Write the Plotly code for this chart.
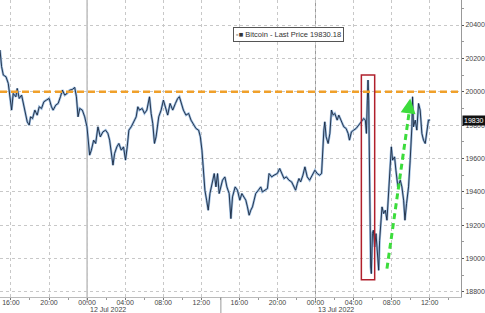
import pandas as pd
import plotly.graph_objects as go

# hours since 2022-07-11 00:00 and Bitcoin last price
hours = [14.85, 15.02, 15.20, 15.48, 15.72, 15.90, 16.07, 16.24, 16.52, 16.66, 16.87, 17.12, 17.29, 17.57,
         17.71, 17.92, 18.06, 18.27, 18.51, 18.76, 18.97, 19.21, 19.46, 19.73, 20.01, 20.26, 20.43, 20.71,
         20.96, 21.20, 21.41, 21.65, 21.90, 22.18, 22.46, 22.70, 22.88, 23.05, 23.23, 23.50, 23.75, 23.99,
         24.10, 24.27, 24.45, 24.69, 24.90, 25.14, 25.39, 25.67, 25.95, 26.19, 26.37, 26.54, 26.72, 26.89,
         27.13, 27.34, 27.59, 27.83, 28.04, 28.22, 28.39, 28.64, 28.81, 29.16, 29.33, 29.51, 29.79, 30.03,
         30.28, 30.56, 30.73, 30.90, 31.08, 31.25, 31.53, 31.78, 32.02, 32.23, 32.47, 32.72, 33.00, 33.28,
         33.52, 33.70, 33.87, 34.12, 34.39, 34.67, 34.92, 35.16, 35.44, 35.72, 35.90, 36.07, 36.21, 36.38,
         36.56, 36.73, 36.91, 37.12, 37.36, 37.54, 37.71, 37.88, 38.06, 38.23, 38.48, 38.69, 38.93, 39.11,
         39.28, 39.56, 39.80, 40.05, 40.26, 40.50, 40.68, 40.85, 41.03, 41.20, 41.38, 41.55, 41.72, 42.00,
         42.25, 42.42, 42.70, 42.95, 43.12, 43.40, 43.64, 43.99, 44.24, 44.45, 44.69, 44.94, 45.21, 45.49,
         45.74, 45.91, 46.09, 46.26, 46.44, 46.68, 46.89, 47.13, 47.38, 47.66, 47.94, 48.18, 48.43, 48.64,
         48.77, 48.88, 48.98, 49.12, 49.33, 49.51, 49.68, 49.86, 50.03, 50.28, 50.45, 50.73, 50.97, 51.22,
         51.43, 51.57, 51.78, 52.02, 52.27, 52.54, 52.82, 53.07, 53.24, 53.35, 53.45, 53.52, 53.59, 53.66,
         53.73, 53.80, 53.87, 53.98, 54.08, 54.22, 54.36, 54.50, 54.64, 54.74, 54.88, 54.99, 55.16, 55.34,
         55.51, 55.69, 55.86, 55.97, 56.10, 56.31, 56.45, 56.66, 56.91, 57.08, 57.26, 57.40, 57.57, 57.78,
         57.95, 58.13, 58.20, 58.30, 58.48, 58.65, 58.83, 59.00, 59.18, 59.35, 59.53, 59.70, 59.87, 60.05]
prices = [20250, 20150, 20100, 20090, 20050, 19970, 19890, 19990, 19970, 20020, 19960, 19980, 19930, 19870,
          19820, 19800, 19850, 19840, 19890, 19860, 19910, 19900, 19940, 19950, 19960, 19910, 19890, 19920,
          19930, 19970, 20010, 19980, 19990, 20010, 20014, 20026, 19970, 19850, 19900, 19890, 19850, 19790,
          19710, 19620, 19650, 19710, 19690, 19790, 19730, 19760, 19770, 19750, 19710, 19650, 19560, 19630,
          19670, 19690, 19650, 19670, 19590, 19670, 19770, 19790, 19810, 19850, 19910, 19890, 19900, 19870,
          19890, 19970, 19870, 19810, 19690, 19730, 19850, 19890, 19950, 19910, 19860, 19930, 19890, 19930,
          19960, 19970, 19930, 19890, 19860, 19870, 19830, 19810, 19780, 19770, 19730, 19650, 19550, 19410,
          19350, 19290, 19390, 19450, 19510, 19430, 19510, 19390, 19430, 19470, 19490, 19430, 19390, 19240,
          19370, 19430, 19410, 19350, 19390, 19370, 19350, 19310, 19260, 19290, 19310, 19350, 19390, 19410,
          19430, 19400, 19410, 19420, 19510, 19490, 19500, 19510, 19540, 19510, 19480, 19490, 19470, 19460,
          19430, 19410, 19450, 19480, 19460, 19500, 19550, 19490, 19470, 19500, 19530, 19510, 19500, 19510,
          19670, 19770, 19820, 19730, 19690, 19750, 19890, 19860, 19870, 19830, 19860, 19820, 19790, 19780,
          19750, 19710, 19760, 19770, 19780, 19800, 19820, 19840, 19830, 19750, 19950, 20070, 19950, 19550,
          19350, 18950, 18910, 19150, 19170, 19070, 19150, 19050, 18930, 19110, 19250, 19310, 19270, 19290,
          19230, 19430, 19610, 19670, 19590, 19610, 19530, 19430, 19470, 19430, 19350, 19230, 19330, 19430,
          19590, 19790, 19970, 19790, 19830, 19770, 19930, 19890, 19750, 19710, 19690, 19770, 19830, 19830.18]

series_name = "Bitcoin - Last Price"
last_price = 19830.18
resistance_level = 20000
y_ticks = [18800, 19000, 19200, 19400, 19600, 19800, 20000, 20200, 20400]
y_text = [str(v) for v in y_ticks]
day_labels = ["12 Jul 2022", "13 Jul 2022"]

base = pd.Timestamp("2022-07-11 00:00")
t = [base + pd.Timedelta(hours=h) for h in hours]

def T(h):
    return base + pd.Timedelta(hours=h)

x_ticks = [T(h) for h in range(16, 61, 4)]
x_text = [d.strftime("%H:%M") for d in x_ticks]

FONT = "Liberation Sans Narrow, Arial Narrow, Liberation Sans, Arial, sans-serif"

fig = go.Figure()
fig.add_trace(go.Scatter(x=t, y=prices, mode="lines",
                         line=dict(color="#9dbde0", width=2.4), hoverinfo="skip", showlegend=False))
fig.add_trace(go.Scatter(x=t, y=prices, mode="lines", name=series_name,
                         line=dict(color="#17273e", width=0.9), showlegend=False))

x0, x1 = T(14.85), T(63.29)
shapes = []
for h in (24, 48):
    shapes.append(dict(type="line", xref="x", yref="paper", x0=T(h), x1=T(h), y0=-0.02, y1=1,
                       line=dict(color="#9a9a9a", width=1), layer="below"))
shapes.append(dict(type="line", xref="x", yref="paper", x0=T(38.06), x1=T(38.06), y0=-0.06, y1=0,
                   line=dict(color="#9a9a9a", width=1)))
shapes.append(dict(type="line", xref="paper", yref="y", x0=0, x1=1, y0=resistance_level, y1=resistance_level,
                   line=dict(color="#f0a02a", width=2.5, dash="7px,4px")))
shapes.append(dict(type="rect", xref="x", yref="y", x0=T(52.82), x1=T(54.22), y0=18874, y1=20100,
                   line=dict(color="#b0202c", width=1.5)))
shapes.append(dict(type="line", xref="x", yref="y", x0=T(55.51), y0=18940, x1=T(57.85), y1=19880,
                   line=dict(color="#3cdc3c", width=3, dash="6px,4px")))
fig.update_layout(shapes=shapes)

annotations = [
    dict(x=T(57.96), y=19960, xref="x", yref="y", ax=-1.6, ay=11, axref="pixel", ayref="pixel",
         showarrow=True, arrowhead=2, arrowsize=1, arrowwidth=3, arrowcolor="#3cdc3c", text=""),
    dict(x=290 / 463, y=1 - 34.5 / 297, xref="paper", yref="paper", xanchor="center", yanchor="middle",
         showarrow=False,
         text="<span style='color:#b0b0b0'>▪</span>■ " + "Bitcoin - Last Price " + f"{last_price:.2f}",
         font=dict(family=FONT, size=7.5, color="#333"), bgcolor="white", bordercolor="#555",
         borderwidth=1, borderpad=2),
    dict(x=1, y=last_price, xref="paper", yref="y", xanchor="left", yanchor="middle", xshift=1,
         showarrow=False, text=f"{last_price:.0f}", font=dict(family=FONT, size=7, color="white"),
         bgcolor="#111", borderpad=1),
]
for h, lab in zip((24, 48), day_labels):
    annotations.append(dict(x=T(h), y=0, xref="x", yref="paper", xanchor="left", yanchor="middle",
                            xshift=1, yshift=-12, showarrow=False, text=lab,
                            font=dict(family=FONT, size=7, color="#444")))
fig.update_layout(annotations=annotations)

fig.update_layout(
    width=485, height=313, margin=dict(l=0, r=22, t=0, b=16),
    plot_bgcolor="white", paper_bgcolor="white",
    font=dict(family=FONT, size=7, color="#444"),
    xaxis=dict(type="date", range=[x0, x1], tickvals=x_ticks, ticktext=x_text,
               showgrid=True, gridcolor="#c8c8c8", griddash="dot", gridwidth=1,
               ticks="outside", ticklen=2, tickcolor="#777", showline=True, linecolor="#bbb",
               zeroline=False, tickfont=dict(size=7, color="#444"), ticklabelstandoff=-3,
               minor=dict(dtick=2 * 3600 * 1000, ticks="outside", ticklen=2, tickcolor="#999", showgrid=False)),
    yaxis=dict(side="right", range=[18770, 20550], tickvals=y_ticks, ticktext=y_text,
               showgrid=True, gridcolor="#c8c8c8", griddash="dot", gridwidth=1,
               ticks="outside", ticklen=2, tickcolor="#555", showline=True, linecolor="#999",
               zeroline=False, tickfont=dict(size=7, color="#444"),
               minor=dict(dtick=100, ticks="outside", ticklen=2, tickcolor="#999", showgrid=False)),
)

fig.write_html("out.html")
